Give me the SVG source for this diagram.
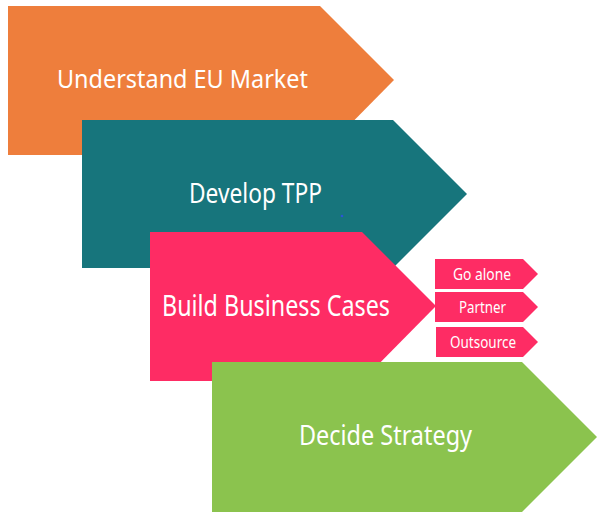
<svg xmlns="http://www.w3.org/2000/svg" width="609" height="518" viewBox="0 0 609 518">
<style>
.lbl{font-family:"Noto Sans","Open Sans","Liberation Sans",sans-serif;fill:#ffffff;text-anchor:start}
.big{font-size:25px}
.small{font-size:16px}
</style>
<rect x="0" y="0" width="609" height="518" fill="#ffffff"/>
<g id="connectors"></g>
<g id="understand">
<polygon points="8,6 320,6 394,80 320,155 8,155" fill="#EE7E3C"/>
<text class="lbl big" x="57" y="88" textLength="251" lengthAdjust="spacingAndGlyphs">Understand EU Market</text>
</g>
<g id="develop">
<polygon points="82,120 393,120 467,194 393,268 82,268" fill="#17757C"/>
<text class="lbl big" x="189" y="203" textLength="133" lengthAdjust="spacingAndGlyphs" style="font-size:27px">Develop TPP</text>
<circle cx="342" cy="216" r="1.3" fill="#2a55d8"/>
</g>
<g id="build">
<polygon points="150,232 362,232 436,306 362,381 150,381" fill="#FE2C64"/>
<text class="lbl big" x="162" y="316" textLength="228" lengthAdjust="spacingAndGlyphs" style="font-size:29px">Build Business Cases</text>
</g>
<g id="goalone">
<polygon points="435,259 523,259 538,274 523,289 435,289" fill="#FE2C64"/>
<text class="lbl small" x="453" y="280" textLength="58" lengthAdjust="spacingAndGlyphs">Go alone</text>
</g>
<g id="partner">
<polygon points="435,292 523,292 538,307 523,322 435,322" fill="#FE2C64"/>
<text class="lbl small" x="459" y="313" textLength="47" lengthAdjust="spacingAndGlyphs">Partner</text>
</g>
<g id="outsource">
<polygon points="436,327 523,327 538,342 523,357 436,357" fill="#FE2C64"/>
<text class="lbl small" x="450" y="348" textLength="66" lengthAdjust="spacingAndGlyphs">Outsource</text>
</g>
<g id="decide">
<polygon points="212,362 522,362 597,437 522,512 212,512" fill="#8BC34E"/>
<text class="lbl big" x="299" y="445" textLength="173" lengthAdjust="spacingAndGlyphs" style="font-size:28px">Decide Strategy</text>
</g>
</svg>
